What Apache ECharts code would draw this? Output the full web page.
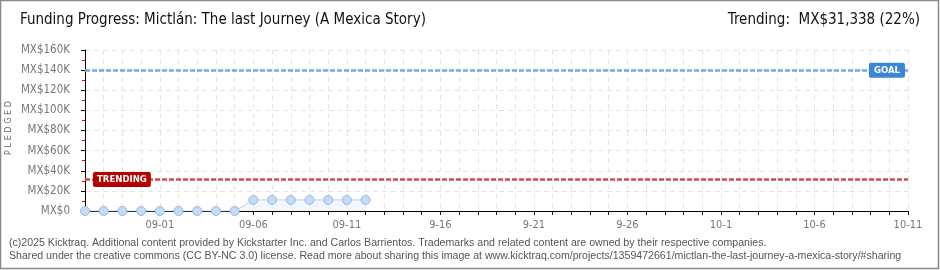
<!DOCTYPE html>
<html><head><meta charset="utf-8">
<script src="https://cdn.jsdelivr.net/npm/echarts@6/dist/echarts.min.js"></script>
<style>html,body{margin:0;padding:0;background:#fff}#c{width:940px;height:270px}</style>
</head><body><div id="c"></div>
<script>
// Day index 0 = 08-28
const dayLabels = ['08-28','08-29','08-30','08-31','09-01','09-02','09-03','09-04','09-05','09-06','09-07','09-08','09-09','09-10','09-11','09-12','09-13','09-14','09-15','9-16','9-17','9-18','9-19','9-20','9-21','9-22','9-23','9-24','9-25','9-26','9-27','9-28','9-29','9-30','10-1','10-2','10-3','10-4','10-5','10-6','10-7','10-8','10-9','10-10','10-11'];
const shownLabels = ['09-01','09-06','09-11','9-16','9-21','9-26','10-1','10-6','10-11'];
const pledged = [0,0,0,0,0,0,0,0,0,11000,11000,11000,11000,11000,11000,11000];
const goal = 140000;
const trending = 31338;
const yTicks = [0,20000,40000,60000,80000,100000,120000,140000,160000];
const titleText = 'Funding Progress: Mictlán: The last Journey (A Mexica Story)';
const trendText = 'Trending:  MX$31,338 (22%)';
const footer1 = '(c)2025 Kicktraq. Additional content provided by Kickstarter Inc. and Carlos Barrientos. Trademarks and related content are owned by their respective companies.';
const footer2 = 'Shared under the creative commons (CC BY-NC 3.0) license. Read more about sharing this image at www.kicktraq.com/projects/1359472661/mictlan-the-last-journey-a-mexica-story/#sharing';

const chart = echarts.init(document.getElementById('c'), null, {renderer:'canvas'});
const F = '"DejaVu Sans Condensed", "Liberation Sans Narrow", sans-serif';
chart.setOption({
  animation:false,
  backgroundColor:'#fff',
  grid:{left:85, right:32, top:50, bottom:59, containLabel:false},
  xAxis:{
    type:'value', min:0, max:dayLabels.length-1, interval:1,
    axisLine:{lineStyle:{color:'#000', width:1}},
    axisTick:{show:true, length:4, lineStyle:{color:'#000'}},
    splitLine:{show:true, lineStyle:{color:'#e4e4e4', type:[5,4]}},
    axisLabel:{
      color:'#777', fontFamily:F, fontSize:11, margin:9,
      formatter:function(v){const l=dayLabels[Math.round(v)];return shownLabels.indexOf(l)>=0?l:'';}
    }
  },
  yAxis:{
    type:'value', min:0, max:160000, interval:20000, offset:9,
    axisLine:{show:true, lineStyle:{color:'#000'}},
    axisTick:{show:true, length:4, lineStyle:{color:'#000'}},
    minorTick:{show:true, splitNumber:2, length:3, lineStyle:{color:'#e00000'}},
    splitLine:{show:true, lineStyle:{color:'#e4e4e4', type:[5,4]}},
    axisLabel:{color:'#777', fontFamily:F, fontSize:11.5, margin:6,
      formatter:function(v){return yTicks.indexOf(v)>=0?'MX$'+(v===0?'0':(v/1000)+'K'):'';}}
  },
  graphic:[
    {type:'rect', shape:{x:0.5,y:0.5,width:938,height:268}, style:{fill:'none', stroke:'#888', lineWidth:1.5}, silent:true},
    {type:'text', left:20, top:13, style:{text:titleText, font:'15px '+F, fill:'#111'}},
    {type:'text', right:20, top:13, style:{text:trendText, font:'15px '+F, fill:'#111'}},
    {type:'text', x:9, y:128, rotation:Math.PI/2, style:{text:'P L E D G E D', font:'9px '+F, fill:'#666', align:'center', verticalAlign:'middle'}},
    {type:'text', left:9, top:238, style:{text:footer1, font:'10.6px "Liberation Sans Narrow", sans-serif', fill:'#555'}},
    {type:'text', left:9, top:251, style:{text:footer2, font:'10.6px "Liberation Sans Narrow", sans-serif', fill:'#555'}}
  ],
  series:[{
    type:'line',
    data:pledged.map((v,i)=>[i,v]),
    symbol:'circle', symbolSize:9,
    lineStyle:{color:'#b7d3f2', width:1},
    itemStyle:{color:'#c4dcf6', borderColor:'#98b9e0', borderWidth:1},
    areaStyle:{color:'#edf4fd'},
    markLine:{
      silent:true, symbol:'none',
      data:[
        {yAxis:goal, lineStyle:{color:'#76aae6', width:2.5, type:[5,2]},
          label:{show:true, position:'insideEnd', formatter:'GOAL', color:'#fff', fontFamily:F, fontSize:9.5, fontWeight:'bold', backgroundColor:'#3a86d8', padding:[3,5,2,5], borderRadius:2, distance:3}},
        {yAxis:trending, lineStyle:{color:'#c9504f', width:2.5, type:[5,2]},
          label:{show:true, position:'insideStart', formatter:'TRENDING', color:'#fff', fontFamily:F, fontSize:9.5, fontWeight:'bold', backgroundColor:'#b50000', padding:[3,4,2,4], borderRadius:2, distance:8}}
      ]
    }
  }]
});
</script></body></html>
